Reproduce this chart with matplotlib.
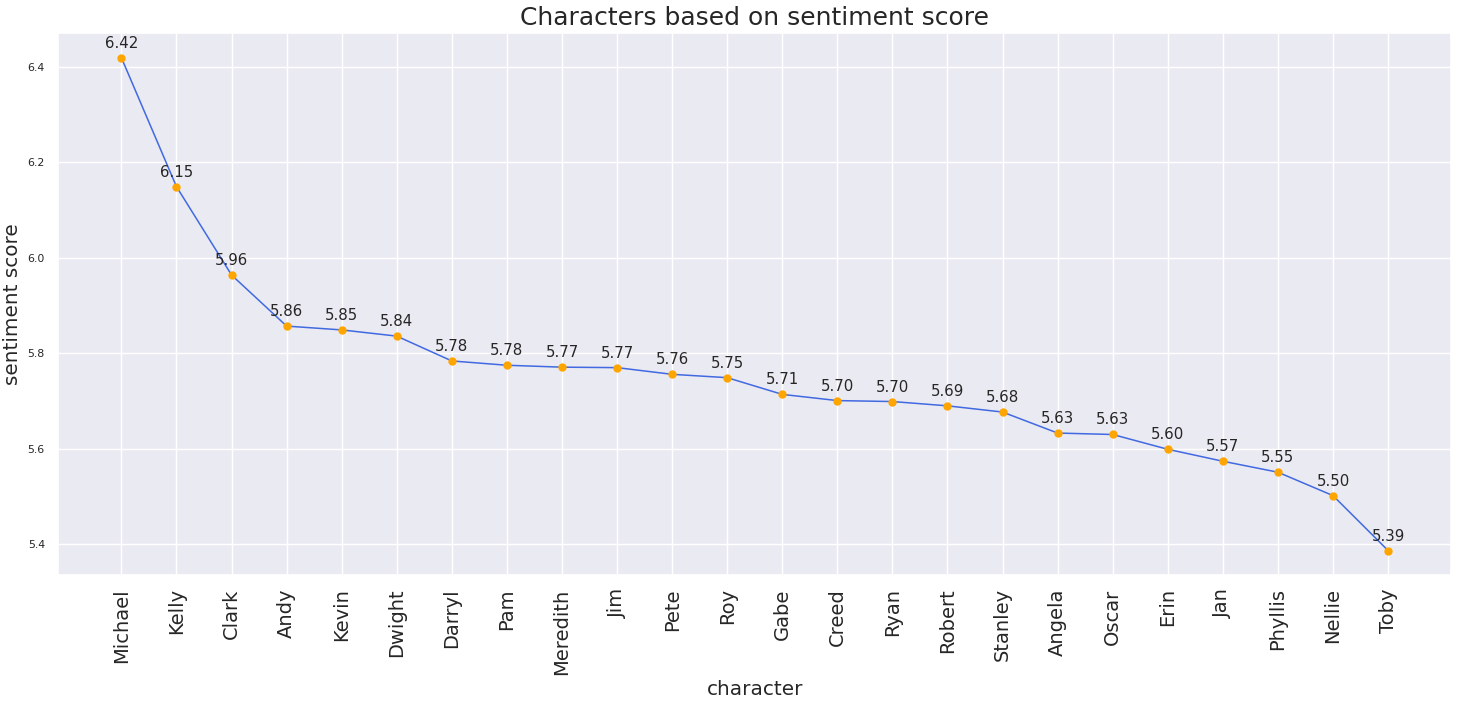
import numpy as np
import seaborn as sns
from matplotlib import pyplot as plt

sns.set_theme(style='darkgrid')
plt.rcParams['font.family'] = ['DejaVu Sans']

characters = ['Michael', 'Kelly', 'Clark', 'Andy', 'Kevin', 'Dwight', 'Darryl', 'Pam',
              'Meredith', 'Jim', 'Pete', 'Roy', 'Gabe', 'Creed', 'Ryan', 'Robert',
              'Stanley', 'Angela', 'Oscar', 'Erin', 'Jan', 'Phyllis', 'Nellie', 'Toby']
sentiment = [6.419, 6.149, 5.964, 5.857, 5.849, 5.836, 5.784, 5.775,
             5.771, 5.770, 5.756, 5.749, 5.714, 5.701, 5.699, 5.690,
             5.677, 5.633, 5.630, 5.599, 5.574, 5.551, 5.502, 5.387]

fig = plt.figure(figsize=(14.59, 7.04), dpi=100)
ax = fig.add_axes([0.0398, 0.183, 0.955, 0.770])

ax.plot(characters, sentiment, color='royalblue', linewidth=1.1,
        marker='o', markersize=5, markerfacecolor='orange', markeredgecolor='orange')

for x, y in zip(characters, sentiment):
    ax.annotate(f'{y:.2f}', (x, y), textcoords='offset points', xytext=(0, 7.2),
                ha='center', fontsize=10.8, color='#262626')

ax.set_title('Characters based on sentiment score', fontsize=18)
ax.set_xlabel('character', fontsize=14.4)
ax.set_ylabel('sentiment score', fontsize=14.4)
ax.tick_params(axis='x', labelsize=14, rotation=90)
ax.tick_params(axis='y', labelsize=7.9)
ax.set_yticks([5.4, 5.6, 5.8, 6.0, 6.2, 6.4])

fig.savefig('out.png', dpi=100)
